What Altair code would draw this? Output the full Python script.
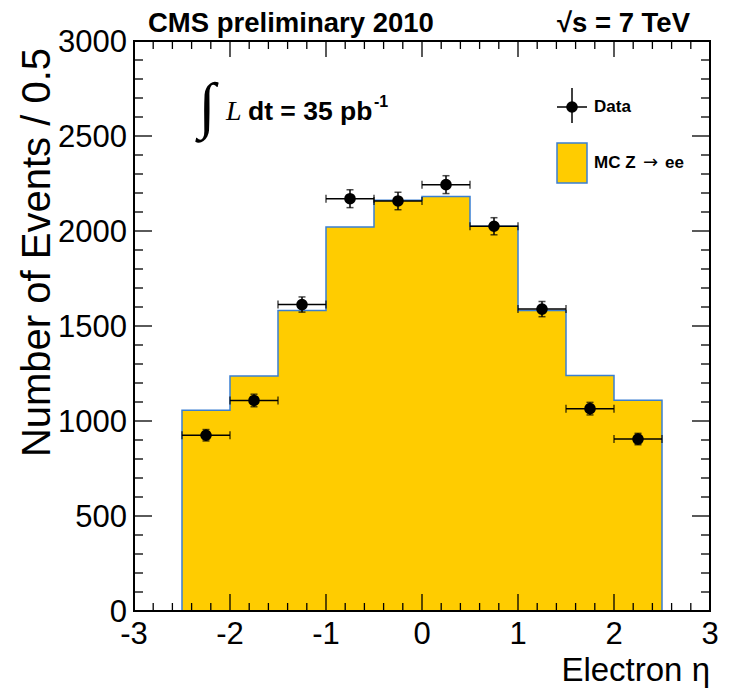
import altair as alt
import pandas as pd

# ---- data ----
eta_centers = [-2.25, -1.75, -1.25, -0.75, -0.25, 0.25, 0.75, 1.25, 1.75, 2.25]
bin_lo = [-2.5, -2.0, -1.5, -1.0, -0.5, 0.0, 0.5, 1.0, 1.5, 2.0]
bin_hi = [-2.0, -1.5, -1.0, -0.5, 0.0, 0.5, 1.0, 1.5, 2.0, 2.5]
data_counts = [925, 1108, 1613, 2170, 2158, 2244, 2025, 1589, 1065, 905]
data_errors = [30, 33, 40, 47, 46, 47, 45, 40, 33, 30]
mc_counts = [1057, 1237, 1582, 2021, 2162, 2181, 2025, 1582, 1239, 1109]
x_tick_labels = [-3, -2, -1, 0, 1, 2, 3]
y_tick_labels = [0, 500, 1000, 1500, 2000, 2500, 3000]
x_minor = [round(-3 + 0.2 * i, 1) for i in range(31)]
y_minor = [100 * i for i in range(31)]

W, H = 576, 570
FONT = "Liberation Sans"
YELLOW = "#ffcc00"
BLUE = "#3a7fd2"

hist = pd.DataFrame({"x": bin_lo + [bin_hi[-1]], "y": mc_counts + [mc_counts[-1]]})
pts = pd.DataFrame({
    "eta": eta_centers, "lo": bin_lo, "hi": bin_hi, "n": data_counts,
    "ylo": [c - e for c, e in zip(data_counts, data_errors)],
    "yhi": [c + e for c, e in zip(data_counts, data_errors)],
})

xscale = alt.Scale(domain=[-3, 3], nice=False, zero=False)
yscale = alt.Scale(domain=[0, 3000], nice=False, zero=False)

def X(f):
    return alt.X(f, scale=xscale, axis=None)

def Y(f):
    return alt.Y(f, scale=yscale, axis=None)

area = alt.Chart(hist).mark_area(interpolate="step-after", fill=YELLOW, stroke=BLUE,
                                 strokeWidth=1.5).encode(x=X("x:Q"), y=Y("y:Q"))

base = alt.Chart(pts)
hbar = base.mark_rule(color="black", strokeWidth=1.5).encode(x=X("lo:Q"), x2="hi:Q", y=Y("n:Q"))
vbar = base.mark_rule(color="black", strokeWidth=1.5).encode(x=X("eta:Q"), y=Y("ylo:Q"), y2="yhi:Q")
capx_lo = base.mark_tick(orient="vertical", size=8, thickness=1.5, color="black").encode(
    x=X("lo:Q"), y=Y("n:Q"))
capx_hi = base.mark_tick(orient="vertical", size=8, thickness=1.5, color="black").encode(
    x=X("hi:Q"), y=Y("n:Q"))
capy_lo = base.mark_tick(orient="horizontal", size=7, thickness=1.5, color="black").encode(
    x=X("eta:Q"), y=Y("ylo:Q"))
capy_hi = base.mark_tick(orient="horizontal", size=7, thickness=1.5, color="black").encode(
    x=X("eta:Q"), y=Y("yhi:Q"))
points = base.mark_point(filled=True, shape="circle", size=135, color="black", opacity=1).encode(
    x=X("eta:Q"), y=Y("n:Q"))

# ---- inward ticks on all four sides ----
xmaj = pd.DataFrame({"v": x_tick_labels, "lab": [str(v) for v in x_tick_labels]})
xmin = pd.DataFrame({"v": [v for v in x_minor if v not in x_tick_labels]})
ymaj = pd.DataFrame({"v": y_tick_labels, "lab": [str(v) for v in y_tick_labels]})
ymin = pd.DataFrame({"v": [v for v in y_minor if v not in y_tick_labels]})

def xticks(df, y0, y1):
    return alt.Chart(df).mark_rule(color="black", strokeWidth=1.3).encode(
        x=X("v:Q"), y=alt.value(y0), y2=alt.value(y1))

def yticks(df, x0, x1):
    return alt.Chart(df).mark_rule(color="black", strokeWidth=1.3).encode(
        y=Y("v:Q"), x=alt.value(x0), x2=alt.value(x1))

ticks = [
    xticks(xmaj, H, H - 17), xticks(xmin, H, H - 8),
    xticks(xmaj, 0, 16), xticks(xmin, 0, 8),
    yticks(ymaj, 0, 18), yticks(ymin, 0, 9),
    yticks(ymaj, W, W - 18), yticks(ymin, W, W - 9),
]

# tick labels
xlabels = alt.Chart(xmaj).mark_text(font=FONT, fontSize=31, align="center", baseline="alphabetic",
                                    color="black").encode(
    x=X("v:Q"), y=alt.value(H + 33), text="lab:N")
ylabels = alt.Chart(ymaj).mark_text(font=FONT, fontSize=31, align="right", baseline="alphabetic",
                                    dy=11, color="black").encode(
    y=Y("v:Q"), x=alt.value(-7), text="lab:N")

one = pd.DataFrame({"a": [0]})
frame = alt.Chart(one).mark_rect(filled=False, stroke="black", strokeWidth=2).encode(
    x=alt.value(0), x2=alt.value(W), y=alt.value(0), y2=alt.value(H))

def label(text, x, y, size, weight="bold", align="left", baseline="alphabetic", font=FONT,
          style="normal", angle=0):
    return alt.Chart(one).mark_text(text=text, fontSize=size, fontWeight=weight, align=align,
                                    baseline=baseline, font=font, fontStyle=style, angle=angle,
                                    color="black").encode(x=alt.value(x), y=alt.value(y))

texts = [
    label("Number of Events / 0.5", -84, 7, 40, weight="normal", align="right", angle=270),
    label("Electron η", W, 640, 33, weight="normal", align="right"),
    label("CMS preliminary 2010", 14, -9, 27.5),
    label("√s = 7 TeV", 556, -9, 27.5, align="right"),
    label("∫", 73, 85, 62, weight="normal", align="center", font="Liberation Serif"),
    label("L", 92, 79, 28, weight="normal", font="Liberation Serif", style="italic"),
    label("dt = 35 pb", 114, 79, 26.5),
    label("-1", 240, 66, 16),
    label("Data", 460, 66, 17, baseline="middle"),
    label("MC Z", 460, 122, 17, baseline="middle"),
    label("→", 509, 122, 18, weight="normal", baseline="middle", font="DejaVu Sans"),
    label("ee", 531, 122, 17, baseline="middle"),
]

leg_h = alt.Chart(one).mark_rule(color="black", strokeWidth=1.5).encode(
    x=alt.value(423), x2=alt.value(453), y=alt.value(66))
leg_v = alt.Chart(one).mark_rule(color="black", strokeWidth=1.5).encode(
    x=alt.value(438), y=alt.value(47), y2=alt.value(82))
leg_pt = alt.Chart(one).mark_point(filled=True, shape="circle", size=135, color="black",
                                   opacity=1).encode(x=alt.value(438), y=alt.value(66))
leg_box = alt.Chart(one).mark_rect(fill=YELLOW, stroke=BLUE, strokeWidth=1.5).encode(
    x=alt.value(423), x2=alt.value(453), y=alt.value(102), y2=alt.value(142))

chart = alt.layer(
    area, *ticks, hbar, vbar, capx_lo, capx_hi, capy_lo, capy_hi, points,
    xlabels, ylabels, leg_h, leg_v, leg_pt, leg_box, *texts, frame
).properties(
    width=W, height=H,
    autosize=alt.AutoSizeParams(type="none"),
    padding={"left": 126, "top": 33, "right": 16, "bottom": 77},
    background="white",
).configure_view(stroke=None)

chart.save("out.html", embed_options={"renderer": "svg", "actions": False})
